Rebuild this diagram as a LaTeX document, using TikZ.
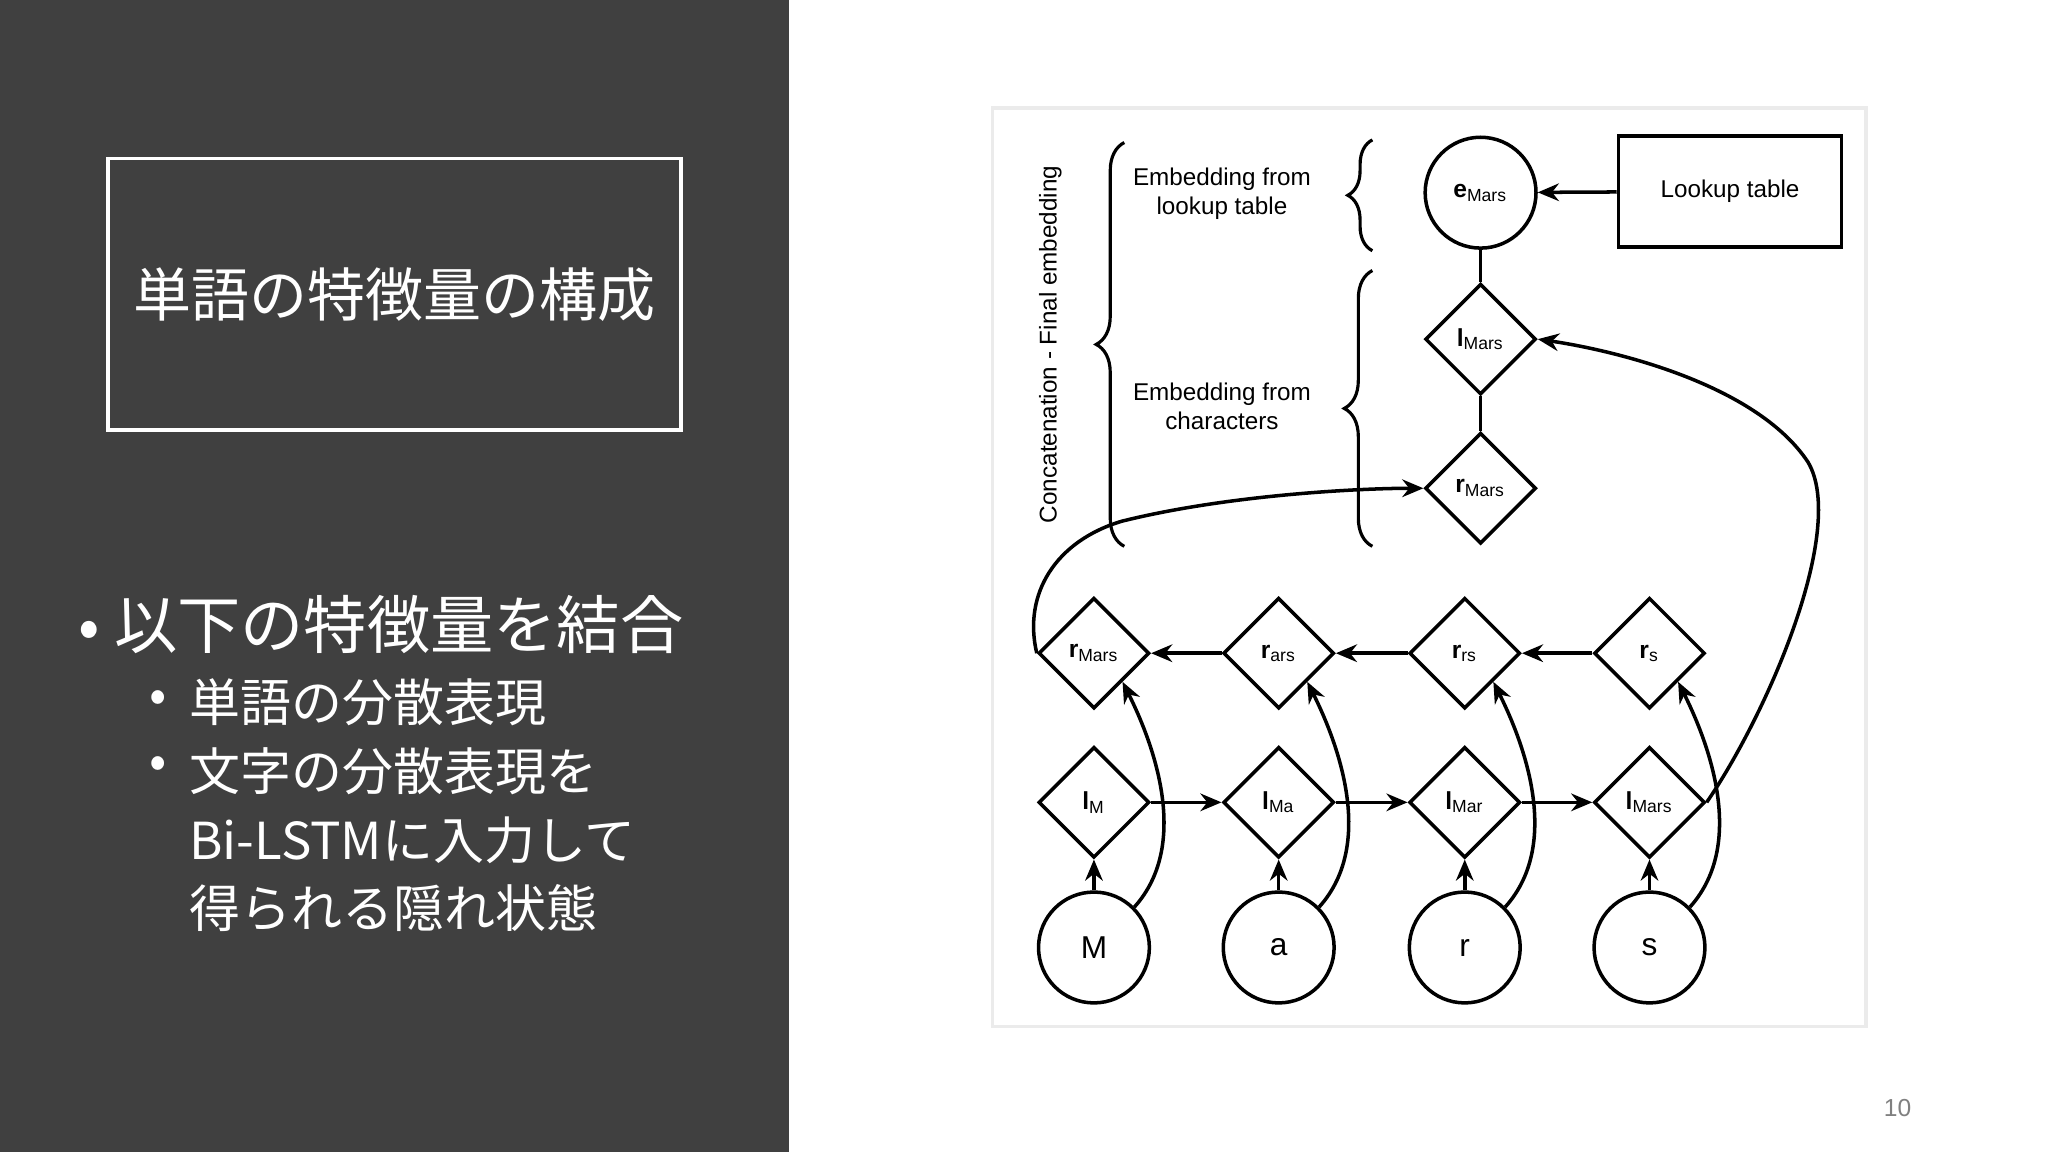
\documentclass[tikz,border=0pt]{standalone}
\usepackage{fontspec}
\setmainfont{Liberation Sans}
\newfontfamily\cjk{Noto Sans CJK JP}
\usetikzlibrary{shapes.geometric,arrows.meta,decorations.pathreplacing}
\begin{document}
\begin{tikzpicture}[x=0.0132cm,y=-0.0132cm,
  dia/.style={diamond,draw,line width=1pt,minimum size=84*0.0132cm,inner sep=0pt,font=\fontsize{7}{8}\selectfont},
  circ/.style={circle,draw,line width=1pt,minimum size=84*0.0132cm,inner sep=0pt,font=\fontsize{9}{10}\selectfont},
  ar/.style={-{Stealth[length=6pt,width=5pt]},line width=1pt},
  ln/.style={line width=1pt},
  lbl/.style={font=\fontsize{6.9}{8.2}\selectfont,align=center},
  bt/.style={text=white,font=\cjk\fontsize{14.5}{19.5}\selectfont,align=left,inner sep=0pt}]
\useasboundingbox (0,0) rectangle (1552,873);
\fill[white] (0,0) rectangle (1552,873);
\fill[black!75] (0,0) rectangle (598,873);
\node[draw=white,line width=1pt,minimum width=434*0.0132cm,minimum height=206*0.0132cm,text=white,font=\cjk\fontsize{16.5}{20}\selectfont] (title) at (299,223) {単語の特徴量の構成};
\node[anchor=west,text=white,font=\cjk\fontsize{18}{22}\selectfont] (b1) at (50,473) {• 以下の特徴量を結合};
\node[anchor=west,bt] (p2) at (113,532) {•};
\node[anchor=west,bt] (b2) at (143,532) {単語の分散表現};
\node[anchor=west,bt] (p3) at (113,582) {•};
\node[anchor=north west,bt] (b3) at (143,566) {文字の分散表現を\\Bi-LSTMに入力して\\得られる隠れ状態};
\node[text=black!50,font=\fontsize{7}{8}\selectfont] (pg) at (1438,840) {10};
\draw[black!8,line width=1pt] (752,82) rectangle (1414,778);
\foreach \n/\x/\c/\l/\r in {1/829/M/M/Mars,2/969/a/Ma/ars,3/1110/r/Mar/rs,4/1250/s/Mars/s}{
  \node[circ] (c\n) at (\x,718) {\c};
  \node[dia] (l\n) at (\x,608) {\textbf{l}$_{\mathrm{\l}}$};
  \node[dia] (r\n) at (\x,495) {\textbf{r}$_{\mathrm{\r}}$};
  \draw[ar] (c\n) -- (l\n);
}
\node[dia] (rT) at (1122,370) {\textbf{r}$_{\mathrm{Mars}}$};
\node[dia] (lT) at (1122,257) {\textbf{l}$_{\mathrm{Mars}}$};
\node[circ,font=\fontsize{7}{8}\selectfont] (e) at (1122,146) {\textbf{e}$_{\mathrm{Mars}}$};
\node[draw,line width=1pt,minimum width=169*0.0132cm,minimum height=84*0.0132cm,lbl] (lk) at (1311,145) {Lookup table};
\draw[ar] (lk) -- (e);
\draw[ln] (e) -- (lT); \draw[ln] (lT) -- (rT);
\draw[ar] (l1) -- (l2); \draw[ar] (l2) -- (l3); \draw[ar] (l3) -- (l4);
\draw[ar] (r4) -- (r3); \draw[ar] (r3) -- (r2); \draw[ar] (r2) -- (r1);
\foreach \n in {1,2,3,4}{
  \draw[ar] (c\n.45) .. controls ++(45,-50) and ++(20,40) .. (r\n.south east);
}
\draw[ar] (l4.east) .. controls (1340,540) and (1400,400) .. (1370,350) .. controls (1330,290) and (1220,265) .. (lT.east);
\draw[ar] (r1.west) .. controls (775,450) and (800,410) .. (850,395) .. controls (930,375) and (1030,370) .. (rT.west);
\draw[line width=0.9pt,decorate,decoration={brace,amplitude=8pt}] (852,414) -- (852,108);
\node[rotate=90,lbl] (cc) at (796,261) {Concatenation - Final embedding};
\draw[line width=0.9pt,decorate,decoration={brace,amplitude=7pt}] (1040,190) -- (1040,106);
\draw[line width=0.9pt,decorate,decoration={brace,amplitude=8pt}] (1040,414) -- (1040,205);
\node[lbl] (t1) at (926,147) {Embedding from\\lookup table};
\node[lbl] (t2) at (926,308) {Embedding from\\characters};
\end{tikzpicture}
\end{document}
